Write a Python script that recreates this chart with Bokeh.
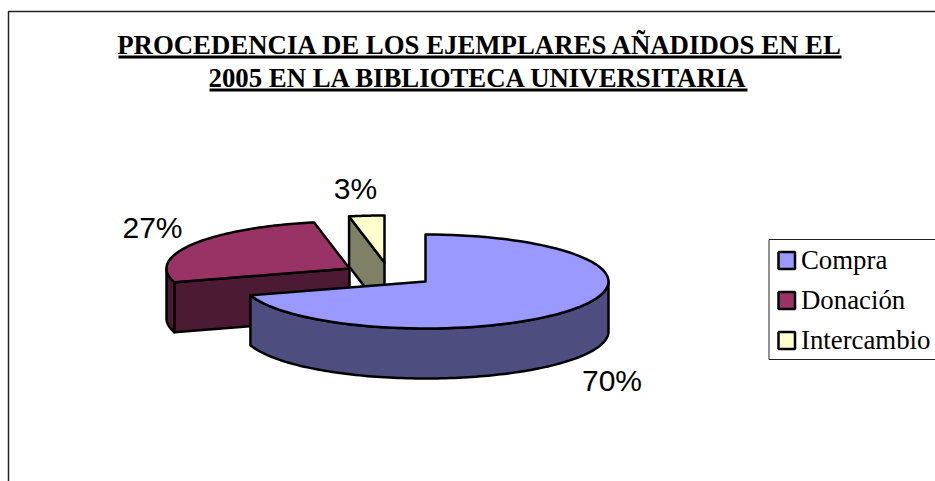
import numpy as np
from bokeh.plotting import figure
from bokeh.models import Range1d
from bokeh.core.properties import value
from bokeh.embed import file_html
from bokeh.resources import INLINE

categories = ["Compra", "Donación", "Intercambio"]
shares = [70.3, 26.6, 3.1]
top_colors = ["#9999FF", "#993366", "#FFFFCC"]
side_colors = ["#4D4D80", "#4D1A33", "#808066"]
title_lines = ["PROCEDENCIA DE LOS EJEMPLARES AÑADIDOS EN EL",
               "2005 EN LA BIBLIOTECA UNIVERSITARIA"]

# layout, in page pixels
APEX = [(425, 281), (349, 268), (384, 262)]
RX, RY, DEPTH = 183, 47, 50
LABEL_POS = [(611.5, 380), (152, 226.5), (355, 187.5)]
SERIF = "Liberation Serif"
SANS = "Liberation Sans"

p = figure(width=935, height=481, x_range=Range1d(0, 935), y_range=Range1d(481, 0),
           toolbar_location=None, output_backend="svg", min_border=0,
           outline_line_color=None, background_fill_color="white")
p.axis.visible = False
p.grid.visible = False


def arc(cx, cy, a0, a1, n=90):
    t = np.radians(np.linspace(a0, a1, n))
    return cx + RX * np.sin(t), cy - RY * np.cos(t)


def poly(x, y, color):
    p.patch(list(x), list(y), fill_color=color, line_color="black", line_width=2.5,
            line_join="round")


# frame (only left and top edges fall inside the picture)
p.line([8, 8, 940], [490, 11, 11], line_color="#222222", line_width=1.5)

# angles clockwise from 12 o'clock, from the shares
ends = np.cumsum(shares) / sum(shares) * 360
starts = np.concatenate([[0], ends[:-1]])

# Intercambio, then Donación, then Compra (back to front)
for i in [2, 1, 0]:
    cx, cy = APEX[i]
    a0, a1 = starts[i], ends[i]
    ax, ay = arc(cx, cy, a0, a1)
    if i == 2:
        # radial wall seen from the front
        poly([ax[0], cx, cx, ax[0]], [ay[0], cy, cy + DEPTH, ay[0] + DEPTH], side_colors[i])
    elif i == 1:
        sx, sy = arc(cx, cy, a0, 270, 30)
        poly(np.r_[sx, sx[::-1]], np.r_[sy, sy[::-1] + DEPTH], side_colors[i])
        poly([cx, ax[0], ax[0], cx], [cy, ay[0], ay[0] + DEPTH, cy + DEPTH], side_colors[i])
    else:
        sx, sy = arc(cx, cy, 90, a1, 120)
        poly(np.r_[sx, sx[::-1]], np.r_[sy, sy[::-1] + DEPTH], side_colors[i])
    poly(np.r_[cx, ax], np.r_[cy, ay], top_colors[i])

# share labels
p.text([q[0] for q in LABEL_POS], [q[1] for q in LABEL_POS],
       text=[f"{s:.0f}%" for s in shares], text_font=value(SANS), text_font_size="30px",
       text_align="center", text_baseline="middle", text_color="black")

# title with underlines
p.text([480, 478], [44, 77], text=title_lines, text_font=value(SERIF),
       text_font_style="bold", text_font_size="26.8px", text_align="center",
       text_baseline="middle", text_color="black")
p.segment([118, 209], [56.5, 89.5], [841, 747], [56.5, 89.5], line_color="black", line_width=3)

# legend
p.line([940, 768.5, 768.5, 940], [239, 239, 359, 359], line_color="#222222", line_width=1)
for k, (name, c) in enumerate(zip(categories, top_colors)):
    yc = 260 + 40 * k
    p.quad(left=[778], right=[794.5], top=[yc - 8.5], bottom=[yc + 8.5], fill_color=c,
           line_color="black", line_width=2.5)
    p.text([800.5], [yc - 0.5], text=[name], text_font=value(SERIF), text_font_size="26.8px",
           text_baseline="middle", text_color="black")

open("out.html", "w").write(file_html(p, INLINE))
